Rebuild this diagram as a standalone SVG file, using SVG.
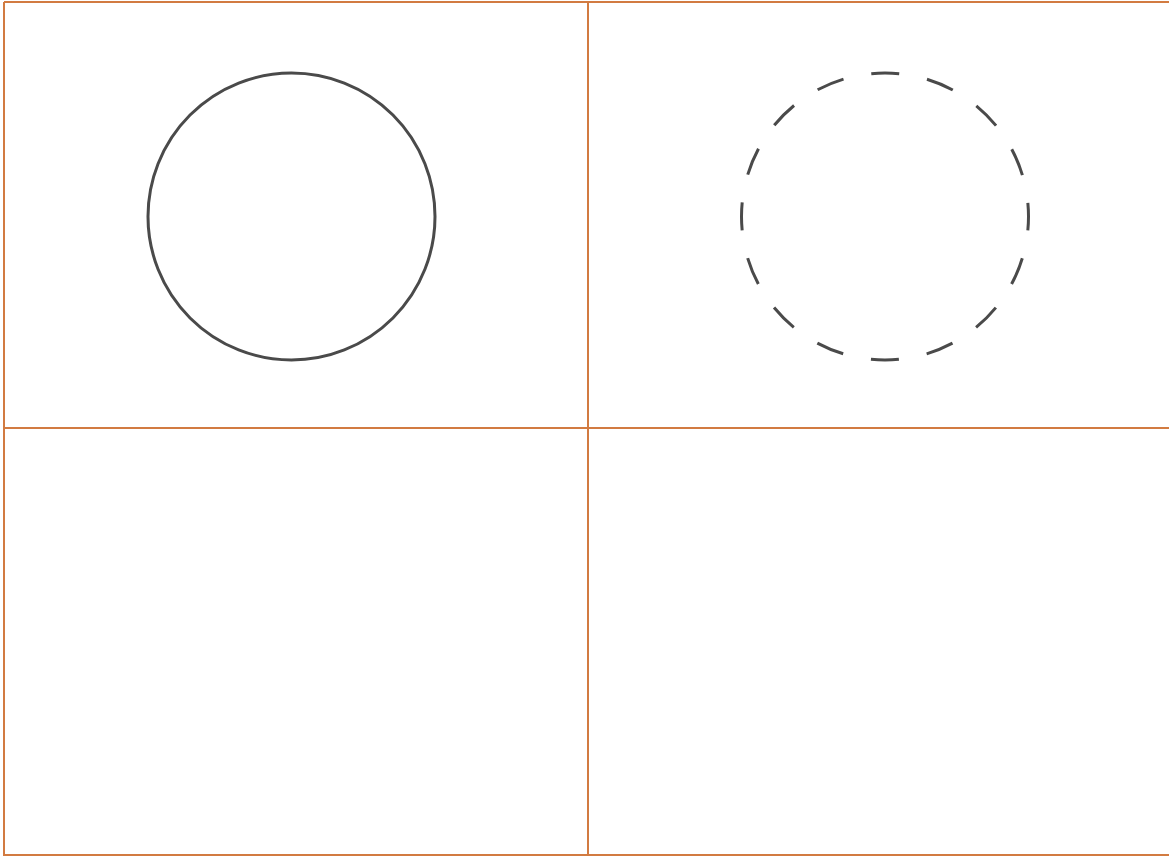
<svg xmlns="http://www.w3.org/2000/svg" width="1169" height="856" viewBox="0 0 1169 856">
<style>
.grid{stroke:#d27b41;stroke-width:2;fill:none}
.c{fill:none;stroke:#4a4a4a;stroke-width:3}
.dash{stroke-dasharray:28 28.35;stroke-dashoffset:14}
</style>
<rect width="1169" height="856" fill="#ffffff"/>
<g id="grid">
<line class="grid" x1="4" y1="2" x2="1169" y2="2"/>
<line class="grid" x1="4" y1="428" x2="1169" y2="428"/>
<line class="grid" x1="4" y1="855" x2="1169" y2="855"/>
<line class="grid" x1="4" y1="2" x2="4" y2="856"/>
<line class="grid" x1="588" y1="2" x2="588" y2="856"/>
</g>
<g id="solid-circle"><circle class="c" cx="291.5" cy="216.5" r="143.5"/></g>
<g id="dashed-circle"><circle class="c dash" cx="885" cy="216.5" r="143.5"/></g>
</svg>
